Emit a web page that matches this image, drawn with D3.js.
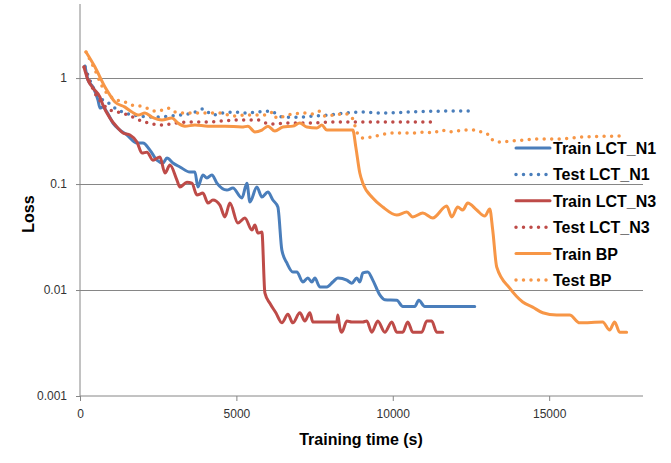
<!DOCTYPE html>
<html>
<head>
<meta charset="utf-8">
<script src="https://cdn.jsdelivr.net/npm/d3@7"></script>
<style>
  body { margin: 0; background: #fff; }
  svg { display: block; font-family: "Liberation Sans", Arial, sans-serif; }
</style>
</head>
<body>
<div id="chart"></div>
<script>
// Data: [training time (s), loss]
const trainN1 = [
  [160,1.30],[256,0.957],[415,0.822],[575,0.620],[639,0.521],[735,0.532],[863,0.478],
  [1054,0.376],[1278,0.323],[1502,0.290],[1821,0.244],[2013,0.244],[2237,0.209],
  [2460,0.168],[2652,0.158],[2780,0.176],[2971,0.158],[3195,0.145],[3515,0.130],
  [3674,0.130],[3770,0.0937],[3930,0.122],[4058,0.114],[4217,0.122],[4377,0.102],
  [4697,0.0878],[4888,0.0917],[5176,0.0738],[5336,0.102],[5432,0.0676],[5655,0.0937],
  [5815,0.0754],[6007,0.0841],[6166,0.0707],[6326,0.0607],[6454,0.0238],[6614,0.0180],
  [6805,0.0148],[6933,0.0148],[7125,0.0119],[7285,0.0130],[7412,0.0119],[7508,0.0130],
  [7668,0.0107],[7892,0.0107],[8083,0.0119],[8243,0.0130],[8531,0.0124],[8690,0.0116],
  [8850,0.0130],[8946,0.0119],[9042,0.0145],[9202,0.0148],[9361,0.0124],[9585,0.0090],
  [9745,0.0081],[10128,0.0080],[10320,0.0070],[10703,0.0070],[10831,0.0080],
  [11022,0.0070],[12620,0.0070]
];
const testN1 = [
  [160,1.27],[383,0.859],[639,0.648],[831,0.607],[1118,0.521],[1438,0.468],[1917,0.438],
  [2396,0.428],[2876,0.438],[3195,0.448],[3610,0.468],[3930,0.510],[4249,0.448],
  [4569,0.468],[4888,0.478],[5272,0.468],[5655,0.478],[6071,0.488],[6486,0.428],
  [6965,0.428],[7444,0.438],[7987,0.448],[8467,0.468],[8946,0.478],[9681,0.468],
  [10543,0.478],[11757,0.488],[12460,0.488]
];
const trainN3 = [
  [128,1.27],[256,0.957],[415,0.805],[639,0.662],[735,0.556],[958,0.419],[1182,0.345],
  [1374,0.303],[1598,0.290],[1821,0.249],[1981,0.196],[2141,0.200],[2332,0.168],
  [2556,0.180],[2716,0.127],[2876,0.151],[3099,0.109],[3195,0.0937],[3419,0.104],
  [3578,0.102],[3738,0.0788],[3930,0.0822],[4090,0.0662],[4249,0.0707],[4473,0.0634],
  [4633,0.0489],[4793,0.0662],[5048,0.0429],[5272,0.0478],[5495,0.0368],[5591,0.0410],
  [5687,0.0345],[5815,0.0352],[5911,0.0094],[6071,0.0075],[6262,0.0061],[6454,0.0049],
  [6646,0.0059],[6805,0.0049],[7029,0.0061],[7189,0.0051],[7349,0.0061],[7444,0.0050],
  [8211,0.0050],[8243,0.0058],[8307,0.0044],[8371,0.0040],[8531,0.0051],[8690,0.0050],
  [9042,0.0050],[9170,0.0051],[9329,0.0040],[9521,0.0051],[9745,0.0040],[9968,0.0050],
  [10128,0.0040],[10320,0.0040],[10479,0.0050],[10639,0.0040],[10927,0.0040],
  [11087,0.0051],[11246,0.0051],[11406,0.0040],[11598,0.0040]
];
const testN3 = [
  [128,1.27],[320,0.917],[511,0.691],[703,0.581],[958,0.499],[1214,0.478],[1534,0.448],
  [1981,0.393],[2652,0.360],[3035,0.376],[3515,0.385],[4090,0.385],[4537,0.393],
  [5112,0.402],[5687,0.402],[6071,0.368],[6614,0.376],[7349,0.376],[8083,0.385],
  [8946,0.385],[10224,0.385],[11438,0.385]
];
const trainBP = [
  [192,1.76],[479,1.27],[799,0.822],[958,0.691],[1118,0.594],[1438,0.532],[1661,0.478],
  [1853,0.448],[2077,0.468],[2300,0.428],[2620,0.402],[2939,0.419],[3131,0.376],
  [3355,0.352],[3674,0.360],[4090,0.352],[4633,0.352],[5176,0.345],[5368,0.352],
  [5591,0.310],[5815,0.323],[6007,0.352],[6230,0.316],[6486,0.345],[6805,0.352],
  [7029,0.376],[7253,0.345],[7572,0.338],[7732,0.360],[7892,0.323],[8211,0.323],
  [8722,0.323],[8818,0.224],[8946,0.127],[9042,0.102],[9361,0.0738],[9681,0.0607],
  [10128,0.0510],[10448,0.0544],[10639,0.0489],[10959,0.0532],[11278,0.0478],
  [11725,0.0620],[11885,0.0489],[12077,0.0607],[12237,0.0569],[12397,0.0662],
  [12684,0.0569],[12940,0.0499],[13100,0.0581],[13195,0.0368],[13323,0.0165],
  [13739,0.0104],[14154,0.0077],[14473,0.0069],[14793,0.0061],[15240,0.0058],
  [15656,0.0058],[15975,0.0049],[16710,0.0050],[16934,0.0042],[17093,0.0050],
  [17253,0.0040],[17476,0.0040]
];
const testBP = [
  [192,1.76],[479,1.19],[735,0.805],[958,0.676],[1182,0.620],[1438,0.594],[1661,0.556],
  [1917,0.544],[2141,0.521],[2396,0.488],[2620,0.499],[2812,0.521],[3035,0.478],
  [3259,0.468],[3674,0.468],[4090,0.468],[4473,0.468],[4888,0.438],[5336,0.448],
  [5591,0.448],[5975,0.448],[6166,0.478],[6294,0.419],[6550,0.438],[6773,0.458],
  [7253,0.468],[7444,0.458],[7668,0.488],[7828,0.438],[8083,0.448],[8531,0.458],
  [8722,0.410],[8850,0.310],[9042,0.272],[9329,0.278],[9585,0.290],[10064,0.303],
  [10607,0.303],[11087,0.310],[11278,0.303],[11566,0.323],[11757,0.310],[12365,0.323],
  [12684,0.323],[12876,0.303],[13100,0.290],[13195,0.260],[13419,0.249],[13739,0.254],
  [14154,0.260],[14601,0.266],[15240,0.266],[16071,0.278],[17349,0.284]
];

const yTicks = [1, 0.1, 0.01, 0.001];
const yTickLabels = ["1", "0.1", "0.01", "0.001"];
const xTicks = [0, 5000, 10000, 15000];

const series = [
  { name: "Train LCT_N1", data: trainN1, color: "#4a7ebb", dotted: false },
  { name: "Test LCT_N1",  data: testN1,  color: "#4a7ebb", dotted: true },
  { name: "Train LCT_N3", data: trainN3, color: "#be4b48", dotted: false },
  { name: "Test LCT_N3",  data: testN3,  color: "#be4b48", dotted: true },
  { name: "Train BP",     data: trainBP, color: "#f79646", dotted: false },
  { name: "Test BP",      data: testBP,  color: "#f79646", dotted: true }
];

const width = 671, height = 463;
const plot = { left: 80, right: 643, top: 4, bottom: 396 };

const svg = d3.select("#chart").append("svg")
  .attr("width", width)
  .attr("height", height);

const x = d3.scaleLinear().domain([0, 18000]).range([plot.left, plot.right]);
const y = d3.scaleLog().domain([0.001, 5]).range([plot.bottom, plot.top]);

// Gridlines
svg.append("g")
  .selectAll("line")
  .data(yTicks.filter(d => d > 0.001))
  .enter().append("line")
  .attr("x1", plot.left).attr("x2", plot.right)
  .attr("y1", d => y(d)).attr("y2", d => y(d))
  .attr("stroke", "#868686")
  .attr("stroke-width", 1)
  .attr("shape-rendering", "crispEdges");

// Y axis
const yAxis = svg.append("g")
  .attr("transform", `translate(${plot.left},0)`)
  .call(d3.axisLeft(y).tickValues(yTicks).tickFormat((d, i) => yTickLabels[i]).tickSize(4).tickPadding(9));
yAxis.select(".domain").attr("stroke", "#868686").attr("d", `M0,${plot.top}V${plot.bottom}`);
yAxis.selectAll(".tick line").attr("stroke", "#868686");
yAxis.selectAll("text").attr("fill", "#333").attr("font-size", "12px")
  .attr("font-family", "Liberation Sans, Arial, sans-serif");

// X axis
const xAxis = svg.append("g")
  .attr("transform", `translate(0,${plot.bottom})`)
  .call(d3.axisBottom(x).tickValues(xTicks).tickFormat(d3.format("d")).tickSize(5).tickPadding(8));
xAxis.select(".domain").attr("stroke", "#868686").attr("d", `M${plot.left},0H${plot.right}`);
xAxis.selectAll(".tick line").attr("stroke", "#868686");
xAxis.selectAll("text").attr("fill", "#333").attr("font-size", "12px")
  .attr("font-family", "Liberation Sans, Arial, sans-serif");

// Lines
const line = d3.line()
  .x(d => x(d[0]))
  .y(d => y(d[1]))
  .curve(d3.curveMonotoneX);

svg.append("g")
  .selectAll("path")
  .data(series)
  .enter().append("path")
  .attr("d", d => line(d.data))
  .attr("fill", "none")
  .attr("stroke", d => d.color)
  .attr("stroke-width", d => d.dotted ? 3.5 : 3)
  .attr("stroke-linecap", "round")
  .attr("stroke-linejoin", "round")
  .attr("stroke-dasharray", d => d.dotted ? "0 7.5" : null);

// Axis titles
svg.append("text")
  .attr("x", 361).attr("y", 445)
  .attr("text-anchor", "middle")
  .attr("font-size", "16px").attr("font-weight", "bold")
  .attr("fill", "#000")
  .text("Training time (s)");

svg.append("text")
  .attr("transform", "translate(34,214) rotate(-90)")
  .attr("text-anchor", "middle")
  .attr("font-size", "16px").attr("font-weight", "bold")
  .attr("fill", "#000")
  .text("Loss");

// Legend (no background, gridlines show through as in the original)
const legend = svg.append("g").attr("transform", "translate(516,148)");
const item = legend.selectAll("g")
  .data(series)
  .enter().append("g")
  .attr("transform", (d, i) => `translate(0,${i * 26.4})`);

item.append("line")
  .attr("x1", 0).attr("x2", 34)
  .attr("y1", 0).attr("y2", 0)
  .attr("stroke", d => d.color)
  .attr("stroke-width", d => d.dotted ? 3.5 : 3)
  .attr("stroke-linecap", "round")
  .attr("stroke-dasharray", d => d.dotted ? "0 7.5" : null);

item.append("text")
  .attr("x", 37).attr("y", 6)
  .attr("font-size", "16px").attr("font-weight", "bold")
  .attr("fill", "#000")
  .text(d => d.name);
</script>
</body>
</html>
